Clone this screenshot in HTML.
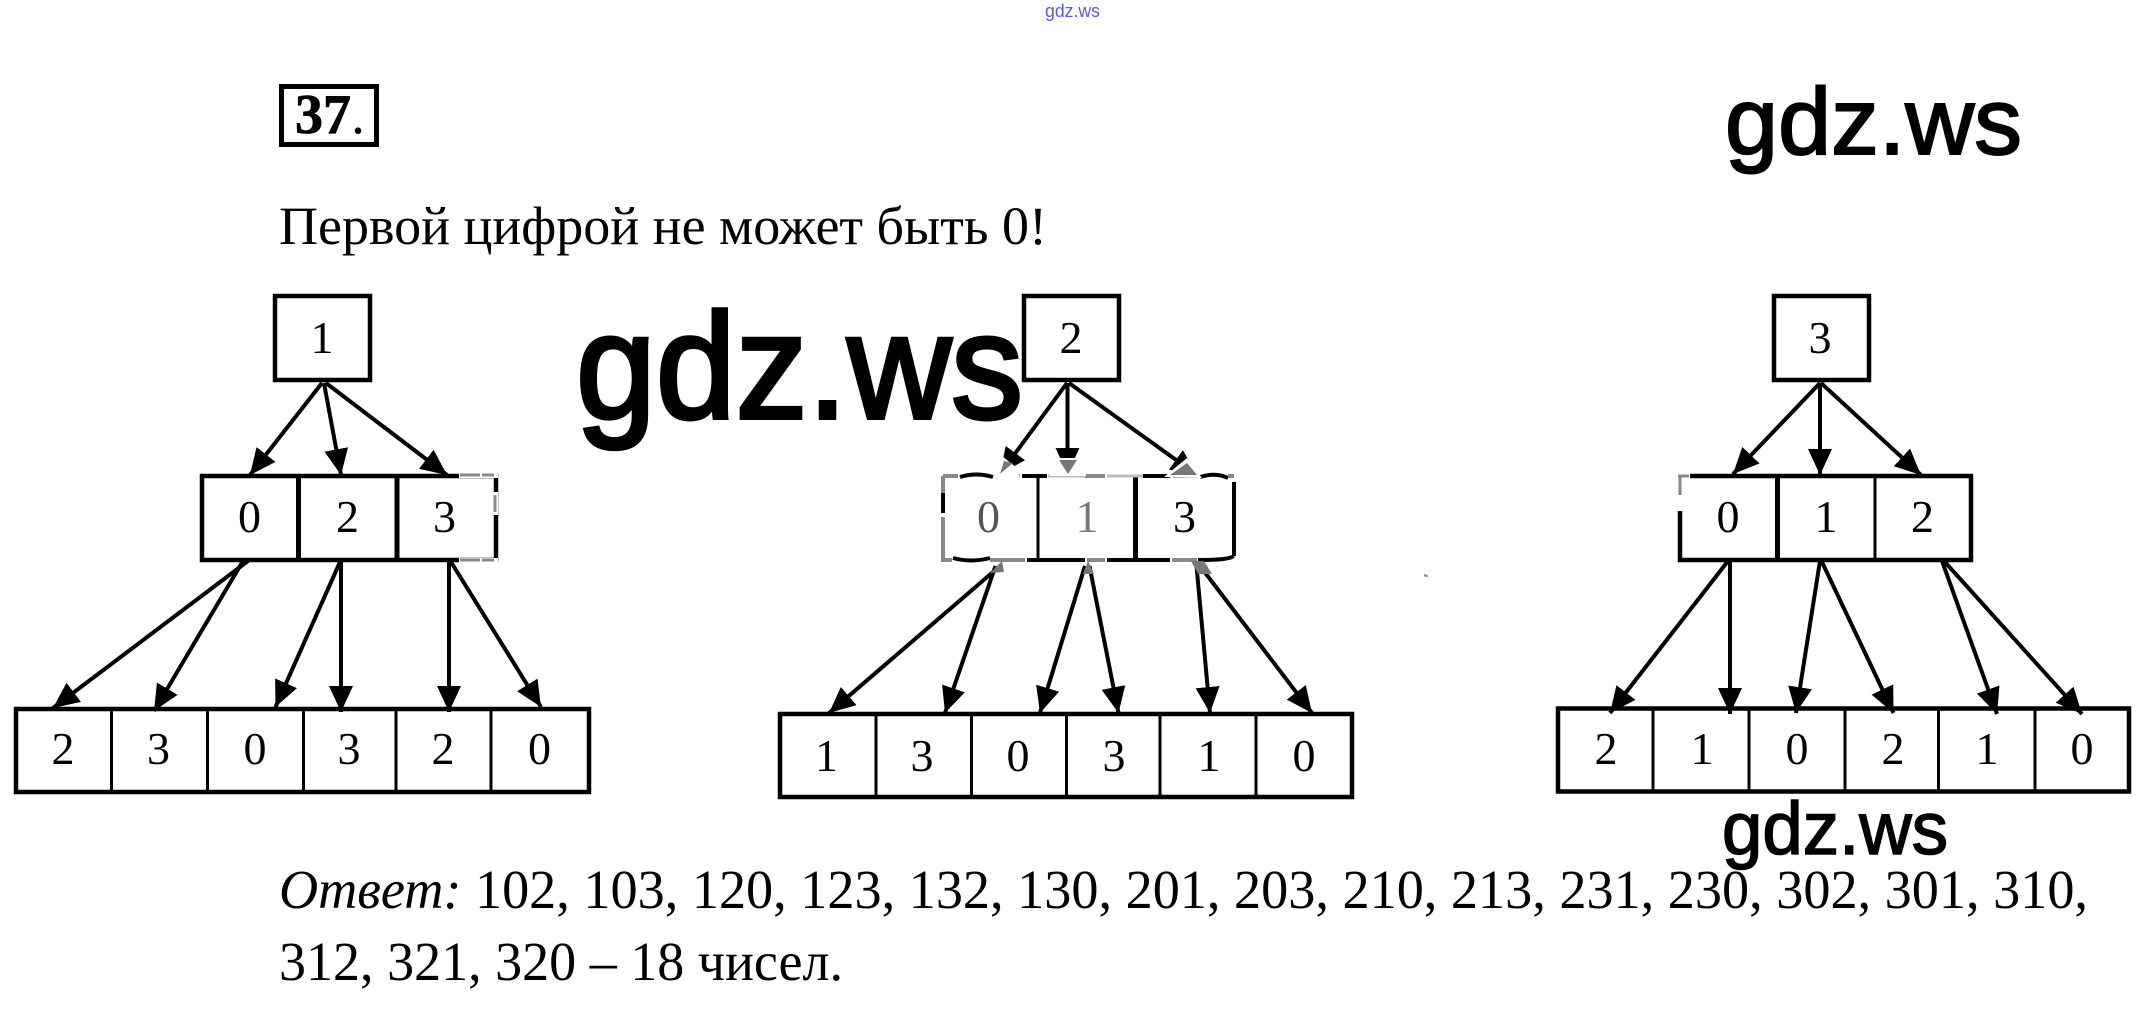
<!DOCTYPE html>
<html><head><meta charset="utf-8"><style>
html,body{margin:0;padding:0;background:#fff;width:2143px;height:1013px;overflow:hidden}
svg{display:block}
text{font-family:"Liberation Serif",serif;fill:#000}
.d{font-size:46px;text-anchor:middle}
.w{font-family:"Liberation Sans",sans-serif;stroke:#000}
</style></head><body>
<svg width="2143" height="1013" viewBox="0 0 2143 1013" xmlns="http://www.w3.org/2000/svg">
<defs>
<marker id="a" markerUnits="userSpaceOnUse" markerWidth="30" markerHeight="30" refX="26" refY="12" orient="auto"><polygon points="0,0 26,12 0,24" fill="#000"/></marker>
</defs>
<rect width="2143" height="1013" fill="#fff"/>

<text x="1045" y="17" textLength="55" lengthAdjust="spacingAndGlyphs" style="font-family:'Liberation Sans',sans-serif;font-size:18px;fill:#5a5ae6">gdz.ws</text>

<rect x="281.500" y="86.500" width="95" height="58" fill="none" stroke="#000" stroke-width="5"/>
<text x="295" y="133" style="font-size:56px;font-weight:bold;stroke:#000;stroke-width:.8">37<tspan font-weight="normal" stroke-width="0">.</tspan></text>

<text x="279" y="244" textLength="768" lengthAdjust="spacingAndGlyphs" style="font-size:54px">Первой цифрой не может быть 0!</text>

<!-- Tree 1 -->
<g fill="#fff" stroke="#000" stroke-width="4.500">
<rect x="275" y="296" width="95" height="84"/>
<rect x="202" y="476" width="294" height="84"/>
<rect x="16" y="709" width="573" height="83"/>
</g>
<g stroke="#000">
<path d="M298.500 476V560M397 476V560" stroke-width="5"/>
<path d="M111.500 709V792M207.500 709V792M303.500 709V792M396 709V792M491 709V792" stroke-width="3"/>
</g>
<path d="M459 475H498M459 561H498M495 492V515" stroke="#fff" stroke-width="6"/>
<path d="M460 475H480M482 475H494M460 560H480M482 560H494M495 495V512" stroke="#888" stroke-width="3"/>
<g stroke="#000" stroke-width="4" marker-end="url(#a)">
<line x1="322" y1="383" x2="250" y2="475"/>
<line x1="324" y1="383" x2="341" y2="475"/>
<line x1="326" y1="383" x2="447" y2="475"/>
<line x1="248" y1="561" x2="53" y2="708"/>
<line x1="243" y1="561" x2="154" y2="711"/>
<line x1="340" y1="562" x2="275.500" y2="707"/>
<line x1="341" y1="562" x2="341" y2="712"/>
<line x1="449" y1="562" x2="449" y2="712"/>
<line x1="451" y1="562" x2="541" y2="707"/>
</g>
<text class="d" x="322" y="353">1</text>
<text class="d" x="249.500" y="532">0</text><text class="d" x="347.500" y="532">2</text><text class="d" x="444.500" y="532">3</text>
<text class="d" x="63" y="764">2</text><text class="d" x="158.500" y="764">3</text><text class="d" x="255" y="764">0</text><text class="d" x="349" y="764">3</text><text class="d" x="443" y="764">2</text><text class="d" x="539.500" y="764">0</text>

<!-- Tree 2 -->
<g fill="#fff" stroke="#000" stroke-width="4.500">
<rect x="1024" y="296" width="95" height="84"/>
<rect x="780" y="714" width="572" height="83"/>
</g>
<path d="M876 714V797M971.500 714V797M1066.500 714V797M1160 714V797M1256 714V797" stroke="#000" stroke-width="3"/>
<path d="M1038 476V560" stroke="#000" stroke-width="3"/>
<path d="M1135.500 476V560" stroke="#000" stroke-width="5"/>
<g stroke="#000" stroke-width="4" fill="none">
<path d="M960 477Q976 472 993 477M1022 476H1047M1143 476H1170M1200 477Q1216 472 1228 478M1234 482V556M1233 556Q1231 560 1198 560M1107 560H1170M1027 560H1085M953 558Q971 563 990 558M943 493V513"/>
</g>
<g stroke="#888" stroke-width="4" fill="none">
<path d="M943 476H958M998 476H1020M1085 476H1105M1173 476H1197M1228 476H1234M943 476V493M943 517V560H952M990 560H1025M1087 560H1105M1172 560H1197"/>
</g>
<path d="M1048 476H1085M1107 476H1143" stroke="#bbb" stroke-width="3"/>
<g stroke="#000" stroke-width="4" marker-end="url(#a)">
<line x1="1067" y1="383" x2="1000" y2="474"/>
<line x1="1067.500" y1="383" x2="1067.500" y2="474"/>
<line x1="1069" y1="383" x2="1197" y2="475"/>
</g>
<g fill="#fff">
<rect x="1050" y="458" width="36" height="18"/>
<polygon points="996,478 1002,456 1017,468 1020,478"/>
<polygon points="1164,477 1187,458 1202,478"/>
</g>
<polygon points="1059,460 1077,460 1068,474" fill="#777"/>
<polygon points="1000,474 1013,463 1004,461" fill="#777"/>
<polygon points="1170,475 1187,463 1197,475" fill="#777"/>
<g stroke="#000" stroke-width="4" marker-end="url(#a)">
<line x1="1000" y1="566" x2="829" y2="713"/>
<line x1="995.500" y1="566" x2="945" y2="713"/>
<line x1="1085" y1="566" x2="1040" y2="713"/>
<line x1="1089.500" y1="566" x2="1118.500" y2="713"/>
<line x1="1196.500" y1="566" x2="1210" y2="713"/>
<line x1="1200" y1="566" x2="1312" y2="713"/>
</g>
<polygon points="990,573 1002,561 1004,572" fill="#777"/>
<polygon points="1083,574 1088,561 1094,574" fill="#777"/>
<polygon points="1191,561 1204,561 1212,574 1198,574" fill="#777"/>
<text class="d" x="1071" y="353">2</text>
<text class="d" x="988.500" y="532" style="fill:#555">0</text><text class="d" x="1087" y="532" style="fill:#777">1</text><text class="d" x="1184.500" y="532">3</text>
<text class="d" x="826.500" y="771">1</text><text class="d" x="922" y="771">3</text><text class="d" x="1018" y="771">0</text><text class="d" x="1114" y="771">3</text><text class="d" x="1209" y="771">1</text><text class="d" x="1304" y="771">0</text>
<path d="M1425 574V576H1428" stroke="#444" fill="none" stroke-width="1"/>

<!-- Tree 3 -->
<g fill="#fff" stroke="#000" stroke-width="4.500">
<rect x="1774" y="296" width="95" height="84"/>
<rect x="1680" y="476" width="291" height="84"/>
<rect x="1558" y="708.500" width="571" height="83"/>
</g>
<path d="M1777.500 476V560" stroke="#000" stroke-width="5"/>
<path d="M1875 476V560" stroke="#000" stroke-width="3"/>
<path d="M1653 709V792M1749 709V792M1845 709V792M1938.500 709V792M2035 709V792" stroke="#000" stroke-width="3"/>
<path d="M1677 476H1690M1680 473V511" stroke="#fff" stroke-width="6"/>
<path d="M1678 476H1689M1680 476V495" stroke="#888" stroke-width="3"/>
<g stroke="#000" stroke-width="4" marker-end="url(#a)">
<line x1="1820" y1="383" x2="1733" y2="474"/>
<line x1="1820" y1="383" x2="1820" y2="475"/>
<line x1="1821" y1="383" x2="1921" y2="475"/>
<line x1="1728" y1="561" x2="1610" y2="713"/>
<line x1="1730" y1="561" x2="1730" y2="714"/>
<line x1="1820" y1="561" x2="1796" y2="713"/>
<line x1="1821.500" y1="561" x2="1893.500" y2="713"/>
<line x1="1942" y1="561" x2="1997" y2="714"/>
<line x1="1944" y1="561" x2="2082" y2="714"/>
</g>
<text class="d" x="1820" y="353">3</text>
<text class="d" x="1728" y="532">0</text><text class="d" x="1826" y="532">1</text><text class="d" x="1922.500" y="532">2</text>
<text class="d" x="1606" y="764">2</text><text class="d" x="1702" y="764">1</text><text class="d" x="1797" y="764">0</text><text class="d" x="1893" y="764">2</text><text class="d" x="1987" y="764">1</text><text class="d" x="2082" y="764">0</text>

<!-- Answer -->
<text x="279" y="908" textLength="1809" lengthAdjust="spacingAndGlyphs" style="font-size:55px"><tspan font-style="italic">Ответ:</tspan> 102, 103, 120, 123, 132, 130, 201, 203, 210, 213, 231, 230, 302, 301, 310,</text>
<text x="279" y="980" textLength="564" lengthAdjust="spacingAndGlyphs" style="font-size:55px">312, 321, 320 – 18 чисел.</text>

<!-- Watermarks -->
<text class="w" x="576" y="418" textLength="447" lengthAdjust="spacingAndGlyphs" style="font-size:150px;stroke-width:4">gdz.ws</text>
<text class="w" x="1725" y="154" textLength="297" lengthAdjust="spacingAndGlyphs" style="font-size:95px;stroke-width:2">gdz.ws</text>
<text class="w" x="1722" y="854" textLength="226" lengthAdjust="spacingAndGlyphs" style="font-size:74px;stroke-width:1.500">gdz.ws</text>
</svg>
</body></html>
